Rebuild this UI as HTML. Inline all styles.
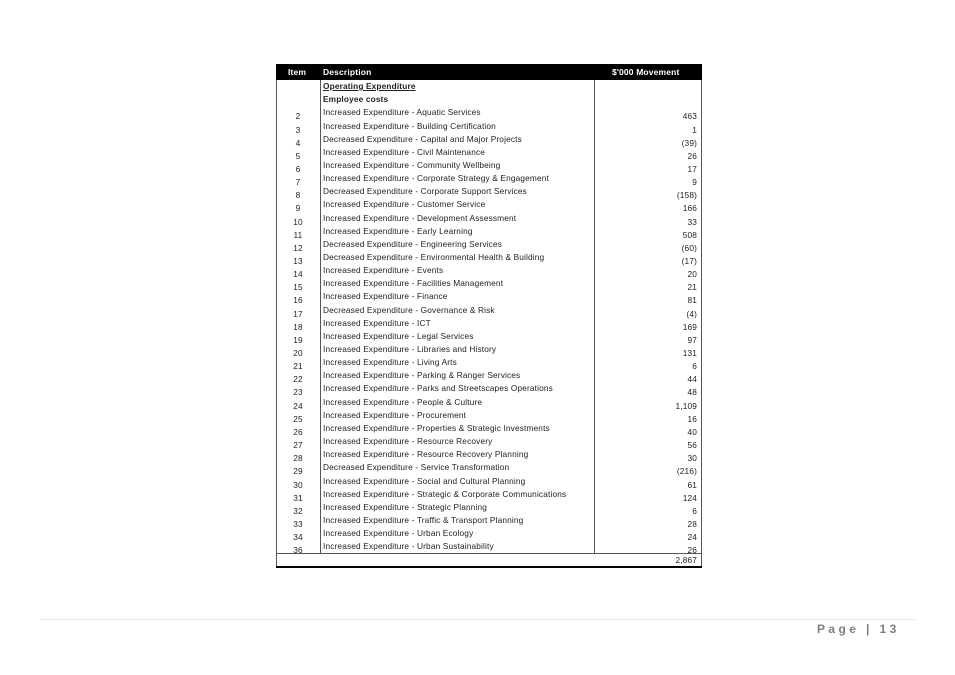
<!DOCTYPE html>
<html><head><style>
body{margin:0;width:955px;height:675px;background:#fff;position:relative;overflow:hidden;font-family:"Liberation Sans",sans-serif;}
.a{position:absolute;}
.t{position:absolute;font-size:8.3px;letter-spacing:0.15px;color:#222;white-space:nowrap;line-height:10px;}
</style></head><body>
<div class="a" style="left:276px;top:64px;width:426px;height:16px;background:#000;"></div>
<div class="t" style="left:288px;top:67px;color:#fff;font-weight:bold;font-size:8.5px;">Item</div>
<div class="t" style="left:323px;top:67px;color:#fff;font-weight:bold;font-size:8.5px;">Description</div>
<div class="t" style="left:612px;top:67px;color:#fff;font-weight:bold;font-size:8.5px;">$'000 Movement</div>
<div class="a" style="left:276px;top:80px;width:0;height:487px;border-left:1px solid #555;"></div>
<div class="a" style="left:701px;top:80px;width:0;height:487px;border-left:1px solid #555;"></div>
<div class="a" style="left:320px;top:80px;width:0;height:473px;border-left:1px solid #555;"></div>
<div class="a" style="left:594px;top:80px;width:0;height:473px;border-left:1px solid #555;"></div>
<div class="a" style="left:276px;top:553px;width:426px;height:0;border-top:1px solid #555;"></div>
<div class="a" style="left:276px;top:566px;width:426px;height:2px;background:#000;"></div>
<div class="t" style="left:648px;top:555px;width:49px;text-align:right;">2,867</div>
<div class="a" style="left:40px;top:619px;width:875px;height:1px;background:#e4e4e4;"></div>
<div class="t" style="left:817px;top:622px;font-size:12px;line-height:14px;color:#7f7f7f;font-weight:bold;letter-spacing:3.4px;">Page | 13</div>
<div id="rows"></div>
<script>
var r=[["","<u><b>Operating Expenditure</b></u>",""],["","<b>Employee costs</b>",""],
["2","Increased Expenditure - Aquatic Services","463"],
["3","Increased Expenditure - Building Certification","1"],
["4","Decreased Expenditure - Capital and Major Projects","(39)"],
["5","Increased Expenditure - Civil Maintenance","26"],
["6","Increased Expenditure - Community Wellbeing","17"],
["7","Increased Expenditure - Corporate Strategy &amp; Engagement","9"],
["8","Decreased Expenditure - Corporate Support Services","(158)"],
["9","Increased Expenditure - Customer Service","166"],
["10","Increased Expenditure - Development Assessment","33"],
["11","Increased Expenditure - Early Learning","508"],
["12","Decreased Expenditure - Engineering Services","(60)"],
["13","Decreased Expenditure - Environmental Health &amp; Building","(17)"],
["14","Increased Expenditure - Events","20"],
["15","Increased Expenditure - Facilities Management","21"],
["16","Increased Expenditure - Finance","81"],
["17","Decreased Expenditure - Governance &amp; Risk","(4)"],
["18","Increased Expenditure - ICT","169"],
["19","Increased Expenditure - Legal Services","97"],
["20","Increased Expenditure - Libraries and History","131"],
["21","Increased Expenditure - Living Arts","6"],
["22","Increased Expenditure - Parking &amp; Ranger Services","44"],
["23","Increased Expenditure - Parks and Streetscapes Operations","48"],
["24","Increased Expenditure - People &amp; Culture","1,109"],
["25","Increased Expenditure - Procurement","16"],
["26","Increased Expenditure - Properties &amp; Strategic Investments","40"],
["27","Increased Expenditure - Resource Recovery","56"],
["28","Increased Expenditure - Resource Recovery Planning","30"],
["29","Decreased Expenditure - Service Transformation","(216)"],
["30","Increased Expenditure - Social and Cultural Planning","61"],
["31","Increased Expenditure - Strategic &amp; Corporate Communications","124"],
["32","Increased Expenditure - Strategic Planning","6"],
["33","Increased Expenditure - Traffic &amp; Transport Planning","28"],
["34","Increased Expenditure - Urban Ecology","24"],
["36","Increased Expenditure - Urban Sustainability","26"]];
var h="";
for(var i=0;i<r.length;i++){var y=81+13.15*i;
h+='<div class="t" style="left:323px;top:'+y.toFixed(1)+'px;">'+r[i][1]+'</div>';
h+='<div class="t" style="left:280px;width:36px;text-align:center;top:'+(y+4).toFixed(1)+'px;">'+r[i][0]+'</div>';
h+='<div class="t" style="left:620px;width:77px;text-align:right;top:'+(y+4).toFixed(1)+'px;">'+r[i][2]+'</div>';}
document.getElementById("rows").innerHTML=h;
</script>
</body></html>
